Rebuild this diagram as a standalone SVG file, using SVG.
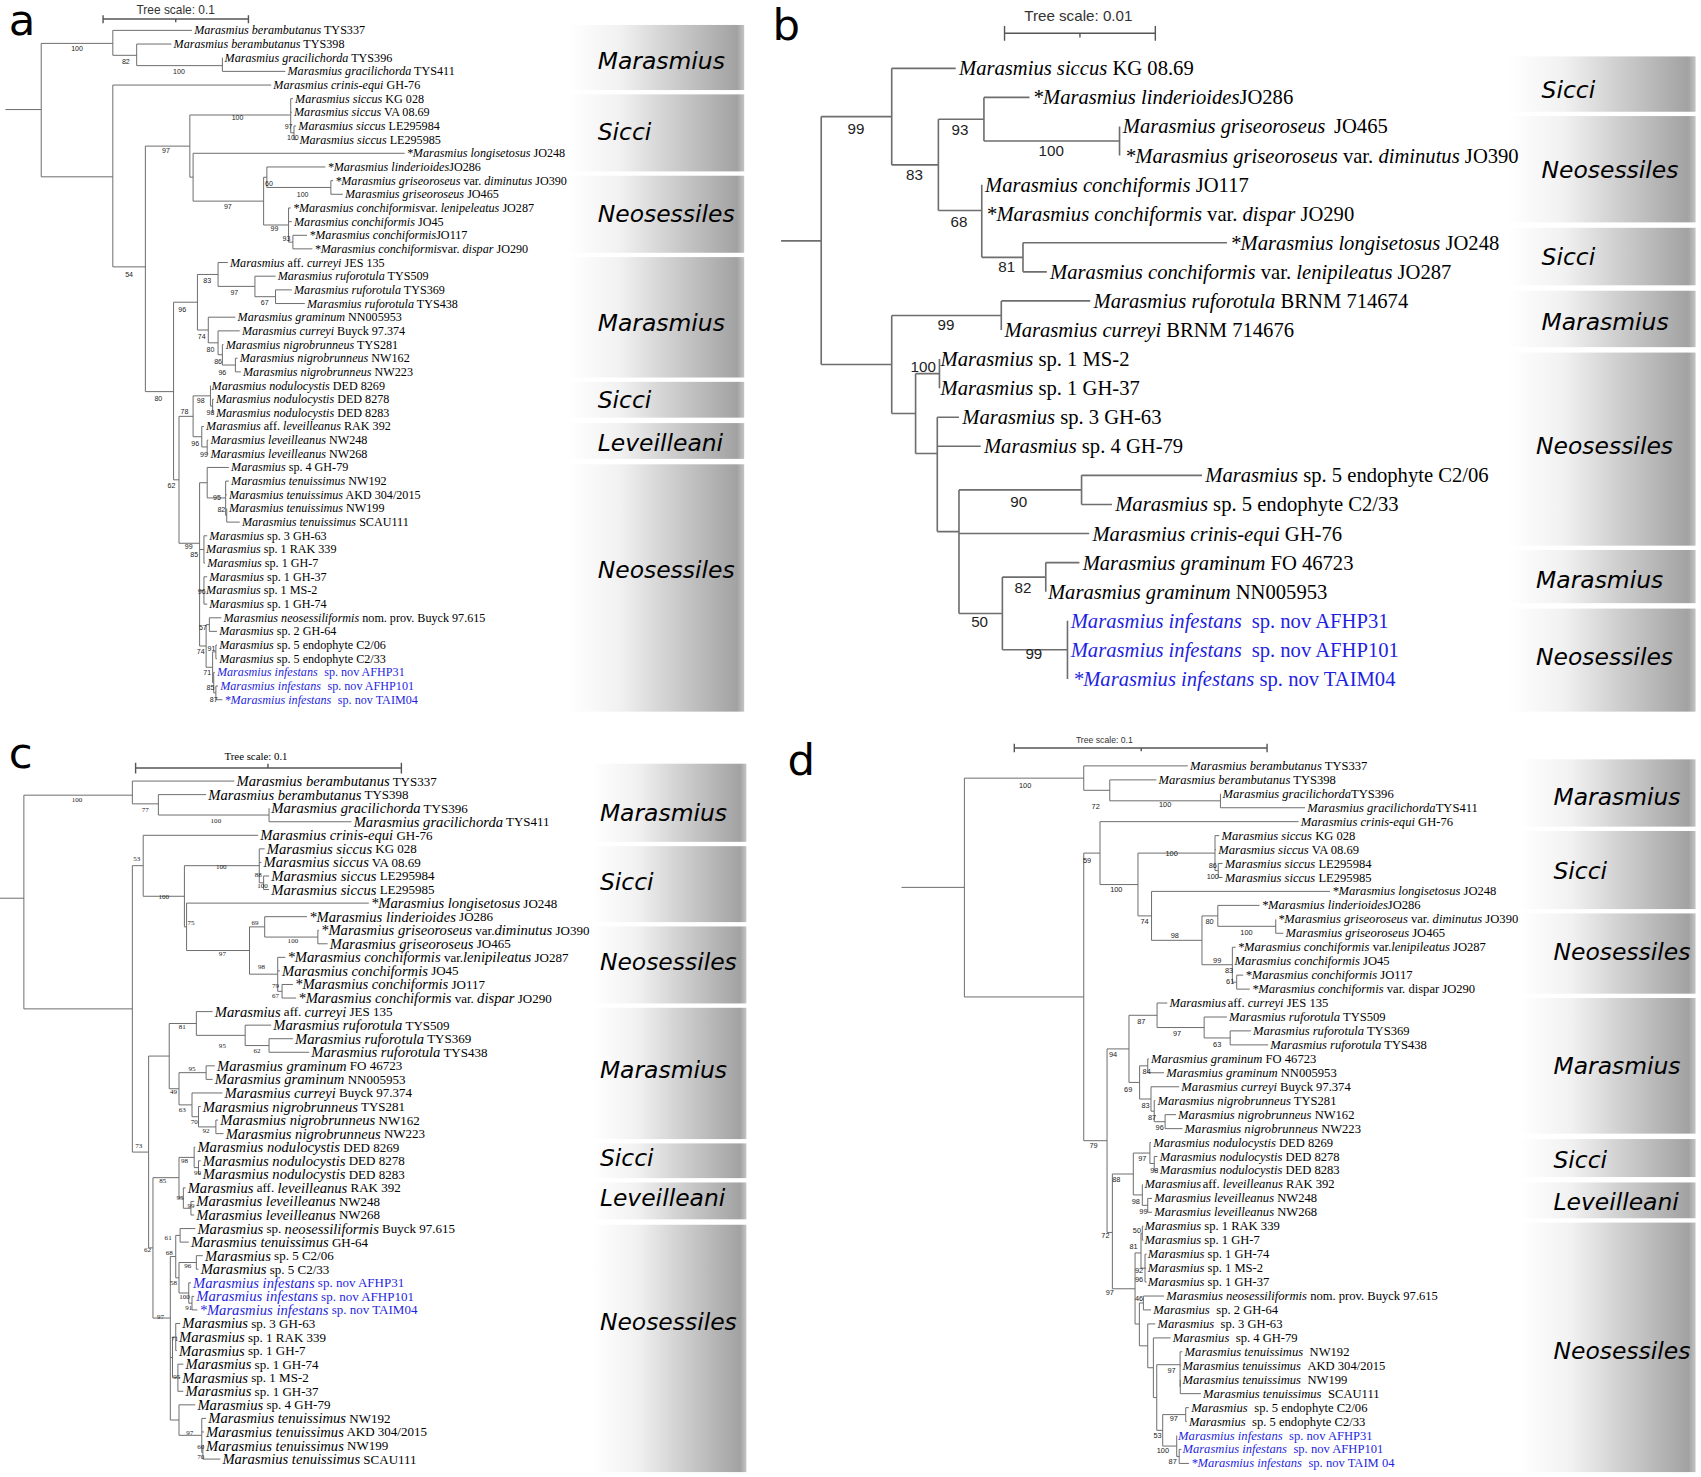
<svg xmlns="http://www.w3.org/2000/svg" width="1701" height="1477" viewBox="0 0 1701 1477">
<style>
text{font-family:"Liberation Serif","Times New Roman",serif;dominant-baseline:central;fill:#000}
.i{font-style:italic}
.ta{font-size:11.2px}
.tb{font-size:19px}
.tc{font-size:12px}
.tc .i{font-size:13.5px}
.td{font-size:11.6px}
.bl{fill:#1f1fe0}
.sa,.sb,.sd{font-family:"Liberation Sans",Arial,sans-serif;text-anchor:middle;fill:#222}
.sa{font-size:6.5px}
.sd{font-size:6.8px}
.sb{font-size:14px}
.sc{font-family:"Liberation Serif",serif;font-size:6.5px;text-anchor:middle;fill:#222}
.cl{font-family:"DejaVu Sans",Verdana,sans-serif;font-style:italic;font-size:21.6px}
.pl{font-family:"DejaVu Sans",Verdana,sans-serif;font-size:40px;dominant-baseline:auto}
.sc1{font-family:"Liberation Sans",Arial,sans-serif;text-anchor:middle;fill:#333}
.tr{fill:none;stroke:#6a6a6a;stroke-width:0.9}
.trb{fill:none;stroke:#6e6e6e;stroke-width:1.5}
.bar{fill:none;stroke:#555;stroke-width:1.3}
.box{fill:url(#gr)}
</style>
<defs>
<linearGradient id="gr" x1="0" y1="0" x2="1" y2="0">
<stop offset="0" stop-color="#ffffff"/>
<stop offset="0.3" stop-color="#f1f1f1"/>
<stop offset="0.96" stop-color="#a2a2a2"/>
<stop offset="1" stop-color="#c4c4c4"/>
</linearGradient>
</defs>
<rect width="1701" height="1477" fill="#fff"/>
<g transform="scale(1.08482)">

<!-- ================= PANEL A ================= -->
<g id="panel-a">
<text class="pl" x="8" y="32">a</text>
<g id="a-scale">
<text class="sc1" x="162" y="9.5" font-size="11">Tree scale: 0.1</text>
<path class="bar" d="M95,17.5H229 M95,14V21.5 M229,14V21.5 M162,17.5V20.5"/>
</g>
<g id="a-clades">
<rect class="box" x="523" y="23" width="163" height="60"/>
<rect class="box" x="523" y="87" width="163" height="71"/>
<rect class="box" x="523" y="162" width="163" height="71"/>
<rect class="box" x="523" y="237" width="163" height="111"/>
<rect class="box" x="523" y="352" width="163" height="33"/>
<rect class="box" x="523" y="390" width="163" height="33"/>
<rect class="box" x="523" y="428" width="163" height="228"/>
<text class="cl" x="551" y="56">Marasmius</text>
<text class="cl" x="551" y="122">Sicci</text>
<text class="cl" x="551" y="197">Neosessiles</text>
<text class="cl" x="551" y="298">Marasmius</text>
<text class="cl" x="551" y="369">Sicci</text>
<text class="cl" x="551" y="408">Leveilleani</text>
<text class="cl" x="551" y="525">Neosessiles</text>
</g>
<g id="a-connectors">
<path class="tr" d="M5,101H38 M38,40V163 M38,40H104 M104,28V51 M104,28H177 M104,51H126 M126,40.6V60.5 M126,40.6H158 M126,60.5H205 M205,53.2V65.8 M205,65.8H263 M38,163H104 M104,78.4V246 M104,78.4H250 M104,246H134 M134,134.7V361 M134,134.7H175 M175,106V163.3 M175,106H268 M268,90.9V122.4 M268,90.9H270 M268,103.5H269 M268,122.4H271 M271,116.1V128.7 M271,116.1H273 M271,128.7H274 M175,163.3H178 M178,141.3V185.4 M178,141.3H373 M178,185.4H243 M243,163.4V207.4 M243,163.4H246 M246,153.9V172.8 M246,153.9H300 M246,172.8H305 M305,166.5V179.1 M305,166.5H307 M305,179.1H316 M243,207.4H266 M266,191.7V223.2 M266,191.7H268 M266,204.3H269 M266,223.2H270 M270,216.9V229.4 M270,216.9H283 M270,229.4H288 M134,361H160 M160,278.6V442.3 M160,278.6H182 M182,253V304.2 M182,253H201 M201,242V264 M201,242H210 M201,264H235 M235,254.6V273.5 M235,254.6H254 M235,273.5H254 M254,267.2V279.8 M254,267.2H269 M254,279.8H281 M182,304.2H192 M192,292.4V316 M192,292.4H217 M192,316H201 M201,305V327 M201,305H221 M201,327H205 M205,317.6V336.5 M205,317.6H206 M205,336.5H217 M217,330.2V342.8 M217,330.2H219 M217,342.8H222 M160,442.3H165 M165,383.8V500.8 M165,383.8H178 M178,364.9V402.6 M178,364.9H194 M194,355.4V374.3 M194,374.3H196 M196,368V380.6 M196,368H197 M196,380.6H197 M178,402.6H186 M186,393.1V412 M186,393.1H188 M186,412H191 M191,405.7V418.3 M191,405.7H192 M191,418.3H192 M165,500.8H184 M184,445V595.5 M184,445H191 M191,430.9V459 M191,430.9H211 M191,459H208 M208,443.5V475 M208,443.5H211 M208,456.1H209 M208,475H209 M209,468.7V481.3 M209,481.3H221 M184,506.5H188 M188,493.9V519.1 M188,493.9H191 M188,519.1H189 M184,544.3H188 M188,531.7V556.9 M188,531.7H191 M188,556.9H191 M184,595.5H190 M190,575.8V615.1 M190,575.8H193 M193,569.5V582 M193,569.5H204 M193,582H200 M190,615.1H196 M196,600.9V629.3 M196,600.9H199 M199,594.6V607.2 M199,594.6H200 M199,607.2H200 M196,629.3H197 M197,619.8V638.7 M197,619.8H198 M197,638.7H199 M199,632.4V645 M199,632.4H201 M199,645H205"/>
</g>
<g id="a-support">
<text class="sa" x="71" y="45">100</text><text class="sa" x="116" y="57">82</text><text class="sa" x="165" y="66">100</text><text class="sa" x="219" y="108">100</text><text class="sa" x="266" y="117">97</text><text class="sa" x="270" y="127">100</text><text class="sa" x="153" y="139">97</text><text class="sa" x="248" y="169">60</text><text class="sa" x="279" y="179">100</text><text class="sa" x="210" y="190">97</text><text class="sa" x="253" y="211">99</text><text class="sa" x="264" y="220">93</text><text class="sa" x="119" y="253">54</text><text class="sa" x="191" y="259">83</text><text class="sa" x="216" y="270">97</text><text class="sa" x="244" y="279">67</text><text class="sa" x="168" y="285">96</text><text class="sa" x="186" y="310">74</text><text class="sa" x="194" y="322">80</text><text class="sa" x="201" y="333">86</text><text class="sa" x="205" y="343">96</text><text class="sa" x="146" y="367">80</text><text class="sa" x="185" y="369">98</text><text class="sa" x="170" y="379">78</text><text class="sa" x="194" y="380">98</text><text class="sa" x="180" y="409">96</text><text class="sa" x="188" y="419">99</text><text class="sa" x="158" y="448">62</text><text class="sa" x="200" y="459">95</text><text class="sa" x="204" y="470">82</text><text class="sa" x="174" y="504">99</text><text class="sa" x="179" y="511">85</text><text class="sa" x="186" y="545">96</text><text class="sa" x="187" y="578">57</text><text class="sa" x="195" y="598">91</text><text class="sa" x="185" y="601">74</text><text class="sa" x="191" y="620">71</text><text class="sa" x="194" y="634">85</text><text class="sa" x="197" y="645">87</text>
</g>
<g id="a-taxa">
<g id="a01"><text class="ta" x="179" y="28"><tspan class="i">Marasmius berambutanus</tspan> TYS337</text></g>
<g id="a02"><text class="ta" x="160" y="40.6"><tspan class="i">Marasmius berambutanus</tspan> TYS398</text></g>
<g id="a03"><text class="ta" x="207" y="53.2"><tspan class="i">Marasmius gracilichorda</tspan> TYS396</text></g>
<g id="a04"><text class="ta" x="265" y="65.8"><tspan class="i">Marasmius gracilichorda</tspan> TYS411</text></g>
<g id="a05"><text class="ta" x="252" y="78.4"><tspan class="i">Marasmius crinis-equi</tspan> GH-76</text></g>
<g id="a06"><text class="ta" x="272" y="90.9"><tspan class="i">Marasmius siccus</tspan> KG 028</text></g>
<g id="a07"><text class="ta" x="271" y="103.5"><tspan class="i">Marasmius siccus</tspan> VA 08.69</text></g>
<g id="a08"><text class="ta" x="275" y="116.1"><tspan class="i">Marasmius siccus</tspan> LE295984</text></g>
<g id="a09"><text class="ta" x="276" y="128.7"><tspan class="i">Marasmius siccus</tspan> LE295985</text></g>
<g id="a10"><text class="ta" x="375" y="141.3"><tspan class="i">*Marasmius longisetosus</tspan> JO248</text></g>
<g id="a11"><text class="ta" x="302" y="153.9"><tspan class="i">*Marasmius linderioides</tspan>JO286</text></g>
<g id="a12"><text class="ta" x="309" y="166.5"><tspan class="i">*Marasmius griseoroseus</tspan> var. <tspan class="i">diminutus</tspan> JO390</text></g>
<g id="a13"><text class="ta" x="318" y="179.1"><tspan class="i">Marasmius griseoroseus</tspan> JO465</text></g>
<g id="a14"><text class="ta" x="270" y="191.7"><tspan class="i">*Marasmius conchiformis</tspan>var. <tspan class="i">lenipeleatus</tspan> JO287</text></g>
<g id="a15"><text class="ta" x="271" y="204.3"><tspan class="i">Marasmius conchiformis</tspan> JO45</text></g>
<g id="a16"><text class="ta" x="285" y="216.9"><tspan class="i">*Marasmius conchiformis</tspan>JO117</text></g>
<g id="a17"><text class="ta" x="290" y="229.4"><tspan class="i">*Marasmius conchiformis</tspan>var. <tspan class="i">dispar</tspan> JO290</text></g>
<g id="a18"><text class="ta" x="212" y="242"><tspan class="i">Marasmius</tspan> aff. <tspan class="i">curreyi</tspan> JES 135</text></g>
<g id="a19"><text class="ta" x="256" y="254.6"><tspan class="i">Marasmius ruforotula</tspan> TYS509</text></g>
<g id="a20"><text class="ta" x="271" y="267.2"><tspan class="i">Marasmius ruforotula</tspan> TYS369</text></g>
<g id="a21"><text class="ta" x="283" y="279.8"><tspan class="i">Marasmius ruforotula</tspan> TYS438</text></g>
<g id="a22"><text class="ta" x="219" y="292.4"><tspan class="i">Marasmius graminum</tspan> NN005953</text></g>
<g id="a23"><text class="ta" x="223" y="305"><tspan class="i">Marasmius curreyi</tspan> Buyck 97.374</text></g>
<g id="a24"><text class="ta" x="208" y="317.6"><tspan class="i">Marasmius nigrobrunneus</tspan> TYS281</text></g>
<g id="a25"><text class="ta" x="221" y="330.2"><tspan class="i">Marasmius nigrobrunneus</tspan> NW162</text></g>
<g id="a26"><text class="ta" x="224" y="342.8"><tspan class="i">Marasmius nigrobrunneus</tspan> NW223</text></g>
<g id="a27"><text class="ta" x="195" y="355.4"><tspan class="i">Marasmius nodulocystis</tspan> DED 8269</text></g>
<g id="a28"><text class="ta" x="199" y="368"><tspan class="i">Marasmius nodulocystis</tspan> DED 8278</text></g>
<g id="a29"><text class="ta" x="199" y="380.6"><tspan class="i">Marasmius nodulocystis</tspan> DED 8283</text></g>
<g id="a30"><text class="ta" x="190" y="393.1"><tspan class="i">Marasmius</tspan> aff. <tspan class="i">leveilleanus</tspan> RAK 392</text></g>
<g id="a31"><text class="ta" x="194" y="405.7"><tspan class="i">Marasmius leveilleanus</tspan> NW248</text></g>
<g id="a32"><text class="ta" x="194" y="418.3"><tspan class="i">Marasmius leveilleanus</tspan> NW268</text></g>
<g id="a33"><text class="ta" x="213" y="430.9"><tspan class="i">Marasmius</tspan> sp. 4 GH-79</text></g>
<g id="a34"><text class="ta" x="213" y="443.5"><tspan class="i">Marasmius tenuissimus</tspan> NW192</text></g>
<g id="a35"><text class="ta" x="211" y="456.1"><tspan class="i">Marasmius tenuissimus</tspan> AKD 304/2015</text></g>
<g id="a36"><text class="ta" x="211" y="468.7"><tspan class="i">Marasmius tenuissimus</tspan> NW199</text></g>
<g id="a37"><text class="ta" x="223" y="481.3"><tspan class="i">Marasmius tenuissimus</tspan> SCAU111</text></g>
<g id="a38"><text class="ta" x="193" y="493.9"><tspan class="i">Marasmius</tspan> sp. 3 GH-63</text></g>
<g id="a39"><text class="ta" x="190" y="506.5"><tspan class="i">Marasmius</tspan> sp. 1 RAK 339</text></g>
<g id="a40"><text class="ta" x="191" y="519.1"><tspan class="i">Marasmius</tspan> sp. 1 GH-7</text></g>
<g id="a41"><text class="ta" x="193" y="531.7"><tspan class="i">Marasmius</tspan> sp. 1 GH-37</text></g>
<g id="a42"><text class="ta" x="190" y="544.3"><tspan class="i">Marasmius</tspan> sp. 1 MS-2</text></g>
<g id="a43"><text class="ta" x="193" y="556.9"><tspan class="i">Marasmius</tspan> sp. 1 GH-74</text></g>
<g id="a44"><text class="ta" x="206" y="569.5"><tspan class="i">Marasmius neosessiliformis</tspan> nom. prov. Buyck 97.615</text></g>
<g id="a45"><text class="ta" x="202" y="582"><tspan class="i">Marasmius</tspan> sp. 2 GH-64</text></g>
<g id="a46"><text class="ta" x="202" y="594.6"><tspan class="i">Marasmius</tspan> sp. 5 endophyte C2/06</text></g>
<g id="a47"><text class="ta" x="202" y="607.2"><tspan class="i">Marasmius</tspan> sp. 5 endophyte C2/33</text></g>
<g id="a48"><text class="ta bl" x="200" y="619.8"><tspan class="i">Marasmius infestans</tspan><tspan dx="6">sp. nov AFHP31</tspan></text></g>
<g id="a49"><text class="ta bl" x="203" y="632.4"><tspan class="i">Marasmius infestans</tspan><tspan dx="6">sp. nov AFHP101</tspan></text></g>
<g id="a50"><text class="ta bl" x="207" y="645"><tspan class="i">*Marasmius infestans</tspan><tspan dx="6">sp. nov TAIM04</tspan></text></g>
</g>
</g>

<!-- ================= PANEL B ================= -->
<g id="panel-b">
<text class="pl" x="712" y="37" font-size="44">b</text>
<g id="b-scale">
<text class="sc1" x="994" y="14" font-size="14">Tree scale: 0.01</text>
<path class="bar" d="M926,30.7H1065 M926,24V37.5 M1065,24V37.5 M995.5,30.7V34.5"/>
</g>
<g id="b-clades">
<rect class="box" x="1390" y="52" width="173" height="51"/>
<rect class="box" x="1390" y="107" width="173" height="98"/>
<rect class="box" x="1390" y="210" width="173" height="53"/>
<rect class="box" x="1390" y="268" width="173" height="52"/>
<rect class="box" x="1390" y="325" width="173" height="178"/>
<rect class="box" x="1390" y="507" width="173" height="49"/>
<rect class="box" x="1390" y="561" width="173" height="95"/>
<text class="cl" x="1421" y="83">Sicci</text>
<text class="cl" x="1421" y="157">Neosessiles</text>
<text class="cl" x="1421" y="237">Sicci</text>
<text class="cl" x="1421" y="297">Marasmius</text>
<text class="cl" x="1416" y="411">Neosessiles</text>
<text class="cl" x="1416" y="535">Marasmius</text>
<text class="cl" x="1416" y="606">Neosessiles</text>
</g>
<g id="b-connectors">
<path class="trb" d="M720,222H757 M757,107.5V336 M757,107.5H822 M822,63V152 M822,63H881 M822,152H865 M865,109.9V194 M865,109.9H907 M907,89.8V130 M907,89.8H949 M907,130H1032 M1032,116.6V143.4 M865,194H905 M905,170.2V237.2 M905,237.2H943 M943,223.8V250.6 M943,223.8H1131 M943,250.6H965 M757,336H822 M822,290.8V381.2 M822,290.8H923 M923,277.4V304.2 M923,277.4H1005 M822,381.2H844 M844,344.4V418 M844,344.4H866 M866,331V357.8 M844,418H864 M864,384.6V490 M864,384.6H884 M864,411.4H904 M864,490H884 M884,451.6V565.5 M884,451.6H997 M997,438.2V465 M997,438.2H1108 M997,465H1025 M884,491.8H1004 M884,565.5H924 M924,532V599 M924,532H964 M964,518.6V545.4 M964,518.6H995 M924,599H984 M984,572.2V625.8"/>
</g>
<g id="b-support">
<text class="sb" x="789" y="118">99</text><text class="sb" x="885" y="119">93</text><text class="sb" x="969" y="139">100</text><text class="sb" x="843" y="161">83</text><text class="sb" x="884" y="204">68</text><text class="sb" x="928" y="246">81</text><text class="sb" x="872" y="299">99</text><text class="sb" x="851" y="338">100</text><text class="sb" x="939" y="462">90</text><text class="sb" x="943" y="542">82</text><text class="sb" x="903" y="573">50</text><text class="sb" x="953" y="602">99</text>
</g>
<g id="b-taxa">
<g id="b01"><text class="tb" x="884" y="63"><tspan class="i">Marasmius siccus</tspan> KG 08.69</text></g>
<g id="b02"><text class="tb" x="952" y="89.8"><tspan class="i">*Marasmius linderioides</tspan>JO286</text></g>
<g id="b03"><text class="tb" x="1035" y="116.6"><tspan class="i">Marasmius griseoroseus</tspan><tspan dx="8">JO465</tspan></text></g>
<g id="b04"><text class="tb" x="1037" y="143.4"><tspan class="i">*Marasmius griseoroseus</tspan> var. <tspan class="i">diminutus</tspan> JO390</text></g>
<g id="b05"><text class="tb" x="908" y="170.2"><tspan class="i">Marasmius conchiformis</tspan> JO117</text></g>
<g id="b06"><text class="tb" x="909" y="197"><tspan class="i">*Marasmius conchiformis</tspan> var. <tspan class="i">dispar</tspan> JO290</text></g>
<g id="b07"><text class="tb" x="1134" y="223.8"><tspan class="i">*Marasmius longisetosus</tspan> JO248</text></g>
<g id="b08"><text class="tb" x="968" y="250.6"><tspan class="i">Marasmius conchiformis</tspan> var. <tspan class="i">lenipileatus</tspan> JO287</text></g>
<g id="b09"><text class="tb" x="1008" y="277.4"><tspan class="i">Marasmius ruforotula</tspan> BRNM 714674</text></g>
<g id="b10"><text class="tb" x="926" y="304.2"><tspan class="i">Marasmius curreyi</tspan> BRNM 714676</text></g>
<g id="b11"><text class="tb" x="867" y="331"><tspan class="i">Marasmius</tspan> sp. 1 MS-2</text></g>
<g id="b12"><text class="tb" x="867" y="357.8"><tspan class="i">Marasmius</tspan> sp. 1 GH-37</text></g>
<g id="b13"><text class="tb" x="887" y="384.6"><tspan class="i">Marasmius</tspan> sp. 3 GH-63</text></g>
<g id="b14"><text class="tb" x="907" y="411.4"><tspan class="i">Marasmius</tspan> sp. 4 GH-79</text></g>
<g id="b15"><text class="tb" x="1111" y="438.2"><tspan class="i">Marasmius</tspan> sp. 5 endophyte C2/06</text></g>
<g id="b16"><text class="tb" x="1028" y="465"><tspan class="i">Marasmius</tspan> sp. 5 endophyte C2/33</text></g>
<g id="b17"><text class="tb" x="1007" y="491.8"><tspan class="i">Marasmius crinis-equi</tspan> GH-76</text></g>
<g id="b18"><text class="tb" x="998" y="518.6"><tspan class="i">Marasmius graminum</tspan> FO 46723</text></g>
<g id="b19"><text class="tb" x="966" y="545.4"><tspan class="i">Marasmius graminum</tspan> NN005953</text></g>
<g id="b20"><text class="tb bl" x="987" y="572.2"><tspan class="i">Marasmius infestans</tspan><tspan dx="9">sp. nov AFHP31</tspan></text></g>
<g id="b21"><text class="tb bl" x="987" y="599"><tspan class="i">Marasmius infestans</tspan><tspan dx="9">sp. nov AFHP101</tspan></text></g>
<g id="b22"><text class="tb bl" x="989" y="625.8"><tspan class="i">*Marasmius infestans</tspan> sp. nov TAIM04</text></g>
</g>
</g>

<!-- ================= PANEL C ================= -->
<g id="panel-c">
<text class="pl" x="8" y="708">c</text>
<g id="c-scale">
<text x="236" y="697" font-size="10" text-anchor="middle" fill="#333">Tree scale: 0.1</text>
<path class="bar" d="M125,708H370 M125,703V713 M370,703V713 M247,704V708"/>
</g>
<g id="c-clades">
<rect class="box" x="545" y="704" width="143" height="72"/>
<rect class="box" x="545" y="780" width="143" height="70"/>
<rect class="box" x="545" y="854" width="143" height="71"/>
<rect class="box" x="545" y="929" width="143" height="121"/>
<rect class="box" x="545" y="1054" width="143" height="32"/>
<rect class="box" x="545" y="1090" width="143" height="34"/>
<rect class="box" x="545" y="1129" width="143" height="228"/>
<text class="cl" x="553" y="749">Marasmius</text>
<text class="cl" x="553" y="813">Sicci</text>
<text class="cl" x="553" y="887">Neosessiles</text>
<text class="cl" x="553" y="986">Marasmius</text>
<text class="cl" x="553" y="1067">Sicci</text>
<text class="cl" x="553" y="1104">Leveilleani</text>
<text class="cl" x="553" y="1219">Neosessiles</text>
</g>
<g id="c-connectors">
<path class="tr" d="M0,828H22 M22,733V930 M22,733H122 M122,720V741 M122,720H216 M122,741H146 M146,732.5V751.3 M146,732.5H190 M146,751.3H248 M248,745V757.5 M248,757.5H324 M22,930H122 M122,798V1062 M122,798H132 M132,770V826.2 M132,770H238 M132,826.2H170 M170,798V854.4 M170,798H239 M239,782.5V813.8 M239,782.5H244 M239,795H241 M239,813.8H243 M243,807.5V820 M243,807.5H248 M243,820H248 M170,854.4H172 M172,832.5V876.2 M172,832.5H340 M172,876.2H230 M230,854.4V898 M230,854.4H244 M244,845V863.8 M244,845H283 M244,863.8H293 M293,857.5V870 M293,857.5H294 M293,870H302 M230,898H256 M256,882.5V913.8 M256,882.5H263 M256,895H258 M256,913.8H260 M260,907.5V920 M260,907.5H270 M260,920H273 M122,1062H137 M137,973.5V1150.3 M137,973.5H156 M156,943.5V1003.6 M156,943.5H181 M181,932.5V954.4 M181,932.5H196 M181,954.4H226 M226,945V963.8 M226,945H250 M226,963.8H248 M248,957.5V970 M248,957.5H270 M248,970H285 M156,1003.6H165 M165,988.8V1018.5 M165,988.8H190 M190,982.5V995 M190,982.5H198 M190,995H196 M165,1018.5H177 M177,1007.5V1029.4 M177,1007.5H205 M177,1029.4H183 M183,1020V1038.8 M183,1020H185 M183,1038.8H199 M199,1032.5V1045 M199,1032.5H201 M199,1045H206 M137,1150.3H141 M141,1085.6V1215 M141,1085.6H165 M165,1066.9V1104.4 M165,1066.9H179 M179,1057.5V1076.3 M179,1057.5H180 M179,1076.3H183 M183,1070V1082.5 M183,1070H185 M183,1082.5H185 M165,1104.4H169 M169,1095V1113.8 M169,1095H171 M169,1113.8H176 M176,1107.5V1120 M176,1107.5H179 M176,1120H179 M141,1215H157 M157,1158.3V1309 M157,1158.3H162 M162,1138.8V1177.9 M162,1138.8H166 M166,1132.5V1145 M166,1132.5H180 M166,1145H174 M162,1177.9H165 M165,1163.8V1191.9 M165,1163.8H181 M181,1157.5V1170 M181,1157.5H187 M181,1170H183 M165,1191.9H174 M174,1182.5V1201.3 M174,1182.5H176 M174,1201.3H177 M177,1195V1207.5 M177,1195H179 M177,1207.5H182 M157,1251.3H159 M159,1232.5V1270 M159,1232.5H162 M162,1220V1245 M162,1220H166 M162,1232.5H163 M162,1245H163 M159,1270H164 M164,1257.5V1282.5 M164,1257.5H169 M164,1270H166 M164,1282.5H169 M157,1309H165 M165,1295V1323.1 M165,1295H180 M165,1323.1H186 M186,1307.5V1338.8 M186,1307.5H190 M186,1320H188 M186,1338.8H187 M187,1332.5V1345 M187,1332.5H188 M187,1345H203"/>
</g>
<g id="c-support">
<text class="sc" x="71" y="737">100</text><text class="sc" x="134" y="747">77</text><text class="sc" x="199" y="757">100</text><text class="sc" x="126" y="792">53</text><text class="sc" x="204" y="799">100</text><text class="sc" x="238" y="807">88</text><text class="sc" x="242" y="817">100</text><text class="sc" x="151" y="827">100</text><text class="sc" x="176" y="851">75</text><text class="sc" x="235" y="851">69</text><text class="sc" x="270" y="867">100</text><text class="sc" x="205" y="879">97</text><text class="sc" x="241" y="891">98</text><text class="sc" x="254" y="909">79</text><text class="sc" x="254" y="918">67</text><text class="sc" x="168" y="947">81</text><text class="sc" x="205" y="964">95</text><text class="sc" x="237" y="969">62</text><text class="sc" x="177" y="985">95</text><text class="sc" x="160" y="1007">49</text><text class="sc" x="168" y="1023">63</text><text class="sc" x="179" y="1034">70</text><text class="sc" x="190" y="1043">92</text><text class="sc" x="128" y="1056">73</text><text class="sc" x="170" y="1070">98</text><text class="sc" x="182" y="1081">99</text><text class="sc" x="150" y="1089">85</text><text class="sc" x="166" y="1104">95</text><text class="sc" x="176" y="1112">99</text><text class="sc" x="155" y="1141">61</text><text class="sc" x="136" y="1152">62</text><text class="sc" x="156" y="1155">68</text><text class="sc" x="173" y="1167">96</text><text class="sc" x="160" y="1183">58</text><text class="sc" x="170" y="1196">100</text><text class="sc" x="174" y="1206">91</text><text class="sc" x="148" y="1214">97</text><text class="sc" x="161" y="1234">71</text><text class="sc" x="163" y="1269">95</text><text class="sc" x="175" y="1321">97</text><text class="sc" x="185" y="1334">60</text><text class="sc" x="185" y="1343">70</text>
</g>
<g id="c-taxa">
<g id="c01"><text class="tc" x="218" y="720"><tspan class="i">Marasmius berambutanus</tspan> TYS337</text></g>
<g id="c02"><text class="tc" x="192" y="732.5"><tspan class="i">Marasmius berambutanus</tspan> TYS398</text></g>
<g id="c03"><text class="tc" x="250" y="745"><tspan class="i">Marasmius gracilichorda</tspan> TYS396</text></g>
<g id="c04"><text class="tc" x="326" y="757.5"><tspan class="i">Marasmius gracilichorda</tspan> TYS411</text></g>
<g id="c05"><text class="tc" x="240" y="770"><tspan class="i">Marasmius crinis-equi</tspan> GH-76</text></g>
<g id="c06"><text class="tc" x="246" y="782.5"><tspan class="i">Marasmius siccus</tspan> KG 028</text></g>
<g id="c07"><text class="tc" x="243" y="795"><tspan class="i">Marasmius siccus</tspan> VA 08.69</text></g>
<g id="c08"><text class="tc" x="250" y="807.5"><tspan class="i">Marasmius siccus</tspan> LE295984</text></g>
<g id="c09"><text class="tc" x="250" y="820"><tspan class="i">Marasmius siccus</tspan> LE295985</text></g>
<g id="c10"><text class="tc" x="342" y="832.5"><tspan class="i">*Marasmius longisetosus</tspan> JO248</text></g>
<g id="c11"><text class="tc" x="285" y="845"><tspan class="i">*Marasmius linderioides</tspan> JO286</text></g>
<g id="c12"><text class="tc" x="296" y="857.5"><tspan class="i">*Marasmius griseoroseus</tspan> var.<tspan class="i">diminutus</tspan> JO390</text></g>
<g id="c13"><text class="tc" x="304" y="870"><tspan class="i">Marasmius griseoroseus</tspan> JO465</text></g>
<g id="c14"><text class="tc" x="265" y="882.5"><tspan class="i">*Marasmius conchiformis</tspan> var.<tspan class="i">lenipileatus</tspan> JO287</text></g>
<g id="c15"><text class="tc" x="260" y="895"><tspan class="i">Marasmius conchiformis</tspan> JO45</text></g>
<g id="c16"><text class="tc" x="272" y="907.5"><tspan class="i">*Marasmius conchiformis</tspan> JO117</text></g>
<g id="c17"><text class="tc" x="275" y="920"><tspan class="i">*Marasmius conchiformis</tspan> var. <tspan class="i">dispar</tspan> JO290</text></g>
<g id="c18"><text class="tc" x="198" y="932.5"><tspan class="i">Marasmius</tspan> aff. <tspan class="i">curreyi</tspan> JES 135</text></g>
<g id="c19"><text class="tc" x="252" y="945"><tspan class="i">Marasmius ruforotula</tspan> TYS509</text></g>
<g id="c20"><text class="tc" x="272" y="957.5"><tspan class="i">Marasmius ruforotula</tspan> TYS369</text></g>
<g id="c21"><text class="tc" x="287" y="970"><tspan class="i">Marasmius ruforotula</tspan> TYS438</text></g>
<g id="c22"><text class="tc" x="200" y="982.5"><tspan class="i">Marasmius graminum</tspan> FO 46723</text></g>
<g id="c23"><text class="tc" x="198" y="995"><tspan class="i">Marasmius graminum</tspan> NN005953</text></g>
<g id="c24"><text class="tc" x="207" y="1007.5"><tspan class="i">Marasmius curreyi</tspan> Buyck 97.374</text></g>
<g id="c25"><text class="tc" x="187" y="1020"><tspan class="i">Marasmius nigrobrunneus</tspan> TYS281</text></g>
<g id="c26"><text class="tc" x="203" y="1032.5"><tspan class="i">Marasmius nigrobrunneus</tspan> NW162</text></g>
<g id="c27"><text class="tc" x="208" y="1045"><tspan class="i">Marasmius nigrobrunneus</tspan> NW223</text></g>
<g id="c28"><text class="tc" x="182" y="1057.5"><tspan class="i">Marasmius nodulocystis</tspan> DED 8269</text></g>
<g id="c29"><text class="tc" x="187" y="1070"><tspan class="i">Marasmius nodulocystis</tspan> DED 8278</text></g>
<g id="c30"><text class="tc" x="187" y="1082.5"><tspan class="i">Marasmius nodulocystis</tspan> DED 8283</text></g>
<g id="c31"><text class="tc" x="173" y="1095"><tspan class="i">Marasmius</tspan> aff. <tspan class="i">leveilleanus</tspan> RAK 392</text></g>
<g id="c32"><text class="tc" x="181" y="1107.5"><tspan class="i">Marasmius leveilleanus</tspan> NW248</text></g>
<g id="c33"><text class="tc" x="181" y="1120"><tspan class="i">Marasmius leveilleanus</tspan> NW268</text></g>
<g id="c34"><text class="tc" x="182" y="1132.5"><tspan class="i">Marasmius</tspan> sp. <tspan class="i">neosessiliformis</tspan> Buyck 97.615</text></g>
<g id="c35"><text class="tc" x="176" y="1145"><tspan class="i">Marasmius tenuissimus</tspan> GH-64</text></g>
<g id="c36"><text class="tc" x="189" y="1157.5"><tspan class="i">Marasmius</tspan> sp. 5 C2/06</text></g>
<g id="c37"><text class="tc" x="185" y="1170"><tspan class="i">Marasmius</tspan> sp. 5 C2/33</text></g>
<g id="c38"><text class="tc bl" x="178" y="1182.5"><tspan class="i">Marasmius infestans</tspan> sp. nov AFHP31</text></g>
<g id="c39"><text class="tc bl" x="181" y="1195"><tspan class="i">Marasmius infestans</tspan> sp. nov AFHP101</text></g>
<g id="c40"><text class="tc bl" x="184" y="1207.5"><tspan class="i">*Marasmius infestans</tspan> sp. nov TAIM04</text></g>
<g id="c41"><text class="tc" x="168" y="1220"><tspan class="i">Marasmius</tspan> sp. 3 GH-63</text></g>
<g id="c42"><text class="tc" x="165" y="1232.5"><tspan class="i">Marasmius</tspan> sp. 1 RAK 339</text></g>
<g id="c43"><text class="tc" x="165" y="1245"><tspan class="i">Marasmius</tspan> sp. 1 GH-7</text></g>
<g id="c44"><text class="tc" x="171" y="1257.5"><tspan class="i">Marasmius</tspan> sp. 1 GH-74</text></g>
<g id="c45"><text class="tc" x="168" y="1270"><tspan class="i">Marasmius</tspan> sp. 1 MS-2</text></g>
<g id="c46"><text class="tc" x="171" y="1282.5"><tspan class="i">Marasmius</tspan> sp. 1 GH-37</text></g>
<g id="c47"><text class="tc" x="182" y="1295"><tspan class="i">Marasmius</tspan> sp. 4 GH-79</text></g>
<g id="c48"><text class="tc" x="192" y="1307.5"><tspan class="i">Marasmius tenuissimus</tspan> NW192</text></g>
<g id="c49"><text class="tc" x="190" y="1320"><tspan class="i">Marasmius tenuissimus</tspan> AKD 304/2015</text></g>
<g id="c50"><text class="tc" x="190" y="1332.5"><tspan class="i">Marasmius tenuissimus</tspan> NW199</text></g>
<g id="c51"><text class="tc" x="205" y="1345"><tspan class="i">Marasmius tenuissimus</tspan> SCAU111</text></g>
</g>
</g>

<!-- ================= PANEL D ================= -->
<g id="panel-d">
<text class="pl" x="726" y="714">d</text>
<g id="d-scale">
<text class="sc1" x="1018" y="682" font-size="8">Tree scale: 0.1</text>
<path class="bar" d="M935,689.5H1168 M935,685.5V693.5 M1168,685.5V693.5 M1052,689.5V692.5"/>
</g>
<g id="d-clades">
<rect class="box" x="1400" y="700" width="163" height="62"/>
<rect class="box" x="1400" y="766" width="163" height="72"/>
<rect class="box" x="1400" y="842" width="163" height="74"/>
<rect class="box" x="1400" y="920" width="163" height="125"/>
<rect class="box" x="1400" y="1050" width="163" height="35"/>
<rect class="box" x="1400" y="1090" width="163" height="33"/>
<rect class="box" x="1400" y="1127" width="163" height="230"/>
<text class="cl" x="1432" y="735">Marasmius</text>
<text class="cl" x="1432" y="803">Sicci</text>
<text class="cl" x="1432" y="878">Neosessiles</text>
<text class="cl" x="1432" y="983">Marasmius</text>
<text class="cl" x="1432" y="1069">Sicci</text>
<text class="cl" x="1432" y="1108">Leveilleani</text>
<text class="cl" x="1432" y="1245">Neosessiles</text>
</g>
<g id="d-connectors">
<path class="tr" d="M831,818H889 M889,717.3V919 M889,717.3H999 M999,706V728.5 M999,706H1095 M999,728.5H1023 M1023,718.9V738.2 M1023,718.9H1066 M1023,738.2H1125 M1125,731.7V744.6 M1125,744.6H1203 M889,919H999 M999,786.4V1051.5 M999,786.4H1014 M1014,757.4V815.4 M1014,757.4H1197 M1014,815.4H1049 M1049,786.4V844.3 M1049,786.4H1120 M1120,770.3V802.5 M1120,770.3H1124 M1120,783.2H1121 M1120,802.5H1123 M1123,796V808.9 M1123,796H1127 M1123,808.9H1127 M1049,844.3H1061.5 M1061.5,821.7V866.8 M1061.5,821.7H1226 M1061.5,866.8H1108 M1108,844.3V889.3 M1108,844.3H1122.6 M1122.6,834.6V853.9 M1122.6,834.6H1161 M1122.6,853.9H1176 M1176,847.5V860.3 M1176,860.3H1183 M1108,889.3H1136 M1136,873.2V905.4 M1136,873.2H1139 M1136,905.4H1140 M1140,898.9V911.8 M1140,898.9H1146 M1140,911.8H1152 M999,1051.5H1020.5 M1020.5,966.9V1136.1 M1020.5,966.9H1040.7 M1040.7,935.9V997.8 M1040.7,935.9H1066.6 M1066.6,924.6V947.2 M1066.6,924.6H1076 M1066.6,947.2H1110 M1110,937.5V956.8 M1110,937.5H1131 M1110,956.8H1134 M1134,950.3V963.2 M1134,950.3H1153 M1134,963.2H1169 M1040.7,997.8H1050.5 M1050.5,982.5V1013.1 M1050.5,982.5H1058 M1058,976.1V988.9 M1058,976.1H1059 M1058,988.9H1073 M1050.5,1013.1H1061 M1061,1001.8V1024.3 M1061,1001.8H1087 M1061,1024.3H1064 M1064,1014.6V1034 M1064,1014.6H1065 M1064,1034H1074 M1074,1027.5V1040.4 M1074,1027.5H1084 M1074,1040.4H1090 M1020.5,1136.1H1025.4 M1025.4,1082.2V1188 M1025.4,1082.2H1044.7 M1044.7,1062.9V1101.5 M1044.7,1062.9H1060 M1060,1053.2V1072.5 M1060,1053.2H1061 M1060,1072.5H1064 M1064,1066.1V1078.9 M1064,1066.1H1067 M1064,1078.9H1067 M1044.7,1101.5H1053 M1053,1091.8V1111.1 M1053,1111.1H1058 M1058,1104.7V1117.5 M1058,1104.7H1062 M1058,1117.5H1062 M1025.4,1188H1046.3 M1046.3,1155V1220.5 M1046.3,1155H1051.8 M1051.8,1136.8V1169 M1051.8,1136.8H1053 M1053,1130.4V1143.2 M1053,1130.4H1054 M1053,1143.2H1054 M1051.8,1169H1055.5 M1055.5,1156.1V1181.8 M1055.5,1156.1H1057 M1055.5,1169H1056.5 M1055.5,1181.8H1057 M1046.3,1220.5H1050.3 M1050.3,1201.1V1240.6 M1050.3,1201.1H1054 M1054,1194.7V1207.5 M1054,1194.7H1073 M1054,1207.5H1061 M1050.3,1240.6H1058 M1058,1220.4V1260.8 M1058,1220.4H1065 M1058,1260.8H1063.2 M1063.2,1233.3V1288.3 M1063.2,1233.3H1079 M1063.2,1288.3H1066.3 M1066.3,1258V1318.5 M1066.3,1258H1087.8 M1087.8,1246.1V1278.3 M1087.8,1246.1H1090 M1087.8,1259H1088.5 M1087.8,1278.3H1088 M1088,1271.8V1284.7 M1088,1284.7H1107 M1066.3,1318.5H1071.8 M1071.8,1304V1333 M1071.8,1304H1093 M1093,1297.6V1310.4 M1093,1297.6H1096 M1093,1310.4H1094 M1071.8,1333H1084.7 M1084.7,1323.3V1342.6 M1084.7,1342.6H1087 M1087,1336.1V1349 M1087,1336.1H1089 M1087,1349H1096"/>
</g>
<g id="d-support">
<text class="sd" x="945" y="724">100</text><text class="sd" x="1010" y="743">72</text><text class="sd" x="1074" y="742">100</text><text class="sd" x="1002" y="793">59</text><text class="sd" x="1080" y="787">100</text><text class="sd" x="1118" y="798">86</text><text class="sd" x="1118" y="808">100</text><text class="sd" x="1029" y="820">100</text><text class="sd" x="1055" y="849">74</text><text class="sd" x="1115" y="849">80</text><text class="sd" x="1149" y="860">100</text><text class="sd" x="1083" y="862">98</text><text class="sd" x="1122" y="885">99</text><text class="sd" x="1133" y="895">83</text><text class="sd" x="1134" y="905">61</text><text class="sd" x="1052" y="942">87</text><text class="sd" x="1085" y="953">97</text><text class="sd" x="1122" y="963">63</text><text class="sd" x="1026" y="972">94</text><text class="sd" x="1057" y="988">84</text><text class="sd" x="1040" y="1004">69</text><text class="sd" x="1056" y="1019">83</text><text class="sd" x="1062" y="1030">87</text><text class="sd" x="1069" y="1039">96</text><text class="sd" x="1008" y="1056">79</text><text class="sd" x="1053" y="1068">97</text><text class="sd" x="1064" y="1079">98</text><text class="sd" x="1029" y="1087">88</text><text class="sd" x="1047" y="1108">98</text><text class="sd" x="1054" y="1117">99</text><text class="sd" x="1048" y="1134">50</text><text class="sd" x="1019" y="1139">72</text><text class="sd" x="1045" y="1149">81</text><text class="sd" x="1050" y="1171">92</text><text class="sd" x="1050" y="1179">96</text><text class="sd" x="1023" y="1191">97</text><text class="sd" x="1050" y="1197">46</text><text class="sd" x="1080" y="1263">97</text><text class="sd" x="1082" y="1308">97</text><text class="sd" x="1067" y="1323">53</text><text class="sd" x="1072" y="1337">100</text><text class="sd" x="1081" y="1347">87</text>
</g>
<g id="d-taxa">
<g id="d01"><text class="td" x="1097" y="706"><tspan class="i">Marasmius berambutanus</tspan> TYS337</text></g>
<g id="d02"><text class="td" x="1068" y="718.9"><tspan class="i">Marasmius berambutanus</tspan> TYS398</text></g>
<g id="d03"><text class="td" x="1127" y="731.7"><tspan class="i">Marasmius gracilichorda</tspan>TYS396</text></g>
<g id="d04"><text class="td" x="1205" y="744.6"><tspan class="i">Marasmius gracilichorda</tspan>TYS411</text></g>
<g id="d05"><text class="td" x="1199" y="757.4"><tspan class="i">Marasmius crinis-equi</tspan> GH-76</text></g>
<g id="d06"><text class="td" x="1126" y="770.3"><tspan class="i">Marasmius siccus</tspan> KG 028</text></g>
<g id="d07"><text class="td" x="1123" y="783.2"><tspan class="i">Marasmius siccus</tspan> VA 08.69</text></g>
<g id="d08"><text class="td" x="1129" y="796"><tspan class="i">Marasmius siccus</tspan> LE295984</text></g>
<g id="d09"><text class="td" x="1129" y="808.9"><tspan class="i">Marasmius siccus</tspan> LE295985</text></g>
<g id="d10"><text class="td" x="1228" y="821.7"><tspan class="i">*Marasmius longisetosus</tspan> JO248</text></g>
<g id="d11"><text class="td" x="1163" y="834.6"><tspan class="i">*Marasmius linderioides</tspan>JO286</text></g>
<g id="d12"><text class="td" x="1178" y="847.5"><tspan class="i">*Marasmius griseoroseus</tspan> var. <tspan class="i">diminutus</tspan> JO390</text></g>
<g id="d13"><text class="td" x="1185" y="860.3"><tspan class="i">Marasmius griseoroseus</tspan> JO465</text></g>
<g id="d14"><text class="td" x="1141" y="873.2"><tspan class="i">*Marasmius conchiformis</tspan> var.<tspan class="i">lenipileatus</tspan> JO287</text></g>
<g id="d15"><text class="td" x="1138" y="886"><tspan class="i">Marasmius conchiformis</tspan> JO45</text></g>
<g id="d16"><text class="td" x="1148" y="898.9"><tspan class="i">*Marasmius conchiformis</tspan> JO117</text></g>
<g id="d17"><text class="td" x="1154" y="911.8"><tspan class="i">*Marasmius conchiformis</tspan> var. dispar JO290</text></g>
<g id="d18"><text class="td" x="1078" y="924.6"><tspan class="i">Marasmius</tspan><tspan dx="1.5">aff.</tspan> <tspan class="i">curreyi</tspan> JES 135</text></g>
<g id="d19"><text class="td" x="1133" y="937.5"><tspan class="i">Marasmius ruforotula</tspan> TYS509</text></g>
<g id="d20"><text class="td" x="1155" y="950.3"><tspan class="i">Marasmius ruforotula</tspan> TYS369</text></g>
<g id="d21"><text class="td" x="1171" y="963.2"><tspan class="i">Marasmius ruforotula</tspan> TYS438</text></g>
<g id="d22"><text class="td" x="1061" y="976.1"><tspan class="i">Marasmius graminum</tspan> FO 46723</text></g>
<g id="d23"><text class="td" x="1075" y="988.9"><tspan class="i">Marasmius graminum</tspan> NN005953</text></g>
<g id="d24"><text class="td" x="1089" y="1001.8"><tspan class="i">Marasmius curreyi</tspan> Buyck 97.374</text></g>
<g id="d25"><text class="td" x="1067" y="1014.6"><tspan class="i">Marasmius nigrobrunneus</tspan> TYS281</text></g>
<g id="d26"><text class="td" x="1086" y="1027.5"><tspan class="i">Marasmius nigrobrunneus</tspan> NW162</text></g>
<g id="d27"><text class="td" x="1092" y="1040.4"><tspan class="i">Marasmius nigrobrunneus</tspan> NW223</text></g>
<g id="d28"><text class="td" x="1063" y="1053.2"><tspan class="i">Marasmius nodulocystis</tspan> DED 8269</text></g>
<g id="d29"><text class="td" x="1069" y="1066.1"><tspan class="i">Marasmius nodulocystis</tspan> DED 8278</text></g>
<g id="d30"><text class="td" x="1069" y="1078.9"><tspan class="i">Marasmius nodulocystis</tspan> DED 8283</text></g>
<g id="d31"><text class="td" x="1055" y="1091.8"><tspan class="i">Marasmius</tspan><tspan dx="1.5">aff.</tspan> <tspan class="i">leveilleanus</tspan> RAK 392</text></g>
<g id="d32"><text class="td" x="1064" y="1104.7"><tspan class="i">Marasmius leveilleanus</tspan> NW248</text></g>
<g id="d33"><text class="td" x="1064" y="1117.5"><tspan class="i">Marasmius leveilleanus</tspan> NW268</text></g>
<g id="d34"><text class="td" x="1055" y="1130.4"><tspan class="i">Marasmius</tspan> sp. 1 RAK 339</text></g>
<g id="d35"><text class="td" x="1055" y="1143.2"><tspan class="i">Marasmius</tspan> sp. 1 GH-7</text></g>
<g id="d36"><text class="td" x="1058" y="1156.1"><tspan class="i">Marasmius</tspan> sp. 1 GH-74</text></g>
<g id="d37"><text class="td" x="1058" y="1169"><tspan class="i">Marasmius</tspan> sp. 1 MS-2</text></g>
<g id="d38"><text class="td" x="1058" y="1181.8"><tspan class="i">Marasmius</tspan> sp. 1 GH-37</text></g>
<g id="d39"><text class="td" x="1075" y="1194.7"><tspan class="i">Marasmius neosessiliformis</tspan> nom. prov. Buyck 97.615</text></g>
<g id="d40"><text class="td" x="1063" y="1207.5"><tspan class="i">Marasmius</tspan><tspan dx="6">sp. 2 GH-64</tspan></text></g>
<g id="d41"><text class="td" x="1067" y="1220.4"><tspan class="i">Marasmius</tspan><tspan dx="6">sp. 3 GH-63</tspan></text></g>
<g id="d42"><text class="td" x="1081" y="1233.3"><tspan class="i">Marasmius</tspan><tspan dx="6">sp. 4 GH-79</tspan></text></g>
<g id="d43"><text class="td" x="1092" y="1246.1"><tspan class="i">Marasmius tenuissimus</tspan><tspan dx="6">NW192</tspan></text></g>
<g id="d44"><text class="td" x="1090" y="1259"><tspan class="i">Marasmius tenuissimus</tspan><tspan dx="6">AKD 304/2015</tspan></text></g>
<g id="d45"><text class="td" x="1090" y="1271.8"><tspan class="i">Marasmius tenuissimus</tspan><tspan dx="6">NW199</tspan></text></g>
<g id="d46"><text class="td" x="1109" y="1284.7"><tspan class="i">Marasmius tenuissimus</tspan><tspan dx="6">SCAU111</tspan></text></g>
<g id="d47"><text class="td" x="1098" y="1297.6"><tspan class="i">Marasmius</tspan><tspan dx="6">sp. 5 endophyte C2/06</tspan></text></g>
<g id="d48"><text class="td" x="1096" y="1310.4"><tspan class="i">Marasmius</tspan><tspan dx="6">sp. 5 endophyte C2/33</tspan></text></g>
<g id="d49"><text class="td bl" x="1086" y="1323.3"><tspan class="i">Marasmius infestans</tspan><tspan dx="6">sp. nov AFHP31</tspan></text></g>
<g id="d50"><text class="td bl" x="1090" y="1336.1"><tspan class="i">Marasmius infestans</tspan><tspan dx="6">sp. nov AFHP101</tspan></text></g>
<g id="d51"><text class="td bl" x="1098" y="1349"><tspan class="i">*Marasmius infestans</tspan><tspan dx="6">sp. nov TAIM 04</tspan></text></g>
</g>
</g>

</g>
</svg>
